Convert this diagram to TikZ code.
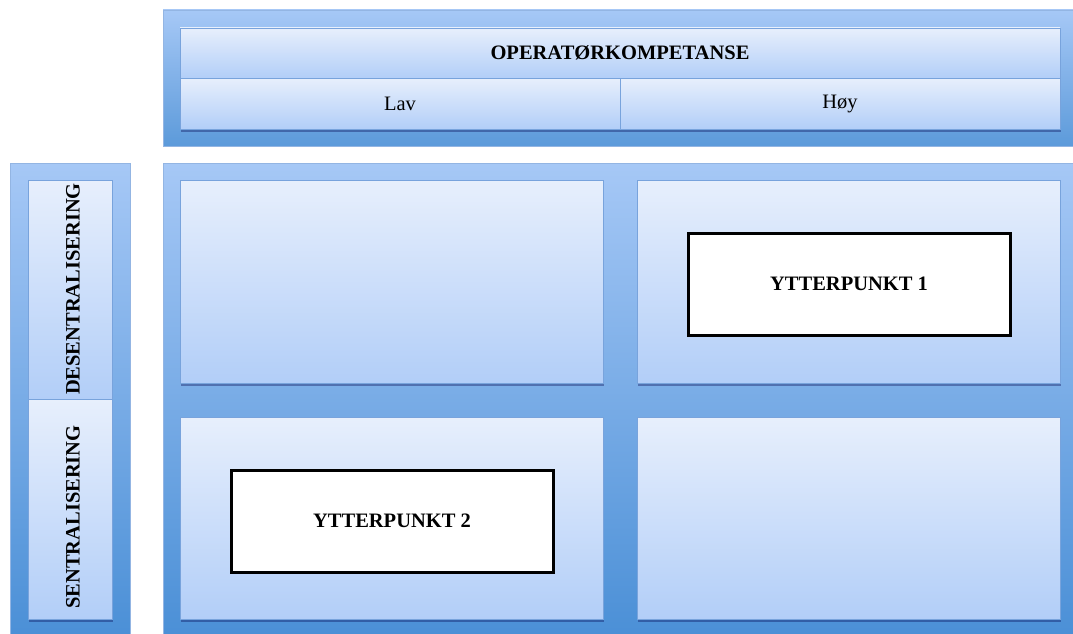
\documentclass[tikz,border=0pt]{standalone}
\usepackage{fontspec}
\setmainfont{Liberation Serif}
\usetikzlibrary{shadows}
\definecolor{panelTop}{HTML}{A6C8F6}
\definecolor{panelBot}{HTML}{4A8FD6}
\definecolor{cellTop}{HTML}{E7EFFC}
\definecolor{cellBot}{HTML}{B2CEF8}
\definecolor{cellLine}{HTML}{78A3DC}
\tikzset{
  panel/.style={draw=cellLine!80, line width=0.6pt},
  shadowbox/.style={fill=cellBot, drop shadow={shadow xshift=1pt, shadow yshift=-2.5pt, opacity=0.35, fill=black!70!blue}},
  cellbox/.style={draw=cellLine, line width=0.8pt, top color=cellTop, bottom color=cellBot},
  shcell/.style={cellbox, drop shadow={shadow xshift=1pt, shadow yshift=-2.5pt, opacity=0.35, fill=black!70!blue}},
  extreme/.style={draw=black, line width=3pt, fill=white, font=\fontsize{20.5}{24}\selectfont\bfseries},
  label/.style={font=\fontsize{20.5}{24}\selectfont\bfseries},
  plain/.style={font=\fontsize{20.5}{24}\selectfont}
}
\begin{document}
\begin{tikzpicture}[x=1pt,y=-1pt]
\useasboundingbox (0,0) rectangle (1073,634);
% outer panels
\path[panel, top color=panelTop, bottom color=panelBot!90] (163,10) rectangle (1075,146);
\path[panel, top color=panelTop, bottom color=panelBot] (10,163) rectangle (130,640);
\path[panel, top color=panelTop, bottom color=panelBot] (163,163) rectangle (1075,640);
% header
\path[shadowbox] (180,28) rectangle (1060,129);
\path[cellbox] (180,28) rectangle (1060,78);
\path[cellbox] (180,78) rectangle (620,129);
\path[cellbox] (620,78) rectangle (1060,129);
\node[label] (head) at (620,53) {OPERATØRKOMPETANSE};
\node[plain] (lav) at (400,104) {Lav};
\node[plain] (hoy) at (840,104) {Høy};
% left axis
\path[shadowbox] (28,180) rectangle (112,619);
\path[cellbox] (28,180) rectangle (112,399);
\path[cellbox] (28,399) rectangle (112,619);
\node[label, rotate=90] (desen) at (73,289) {DESENTRALISERING};
\node[label, rotate=90] (sen) at (73,517) {SENTRALISERING};
% cells
\path[shcell] (180,180) rectangle (603,383);
\path[shcell] (637,180) rectangle (1060,383);
\path[shcell] (180,417) rectangle (603,619);
\path[shcell] (637,417) rectangle (1060,619);
% extreme points
\node[extreme, minimum width=322pt, minimum height=102pt] (y1) at (849,284) {YTTERPUNKT 1};
\node[extreme, minimum width=322pt, minimum height=102pt] (y2) at (392,521) {YTTERPUNKT 2};
\end{tikzpicture}
\end{document}
